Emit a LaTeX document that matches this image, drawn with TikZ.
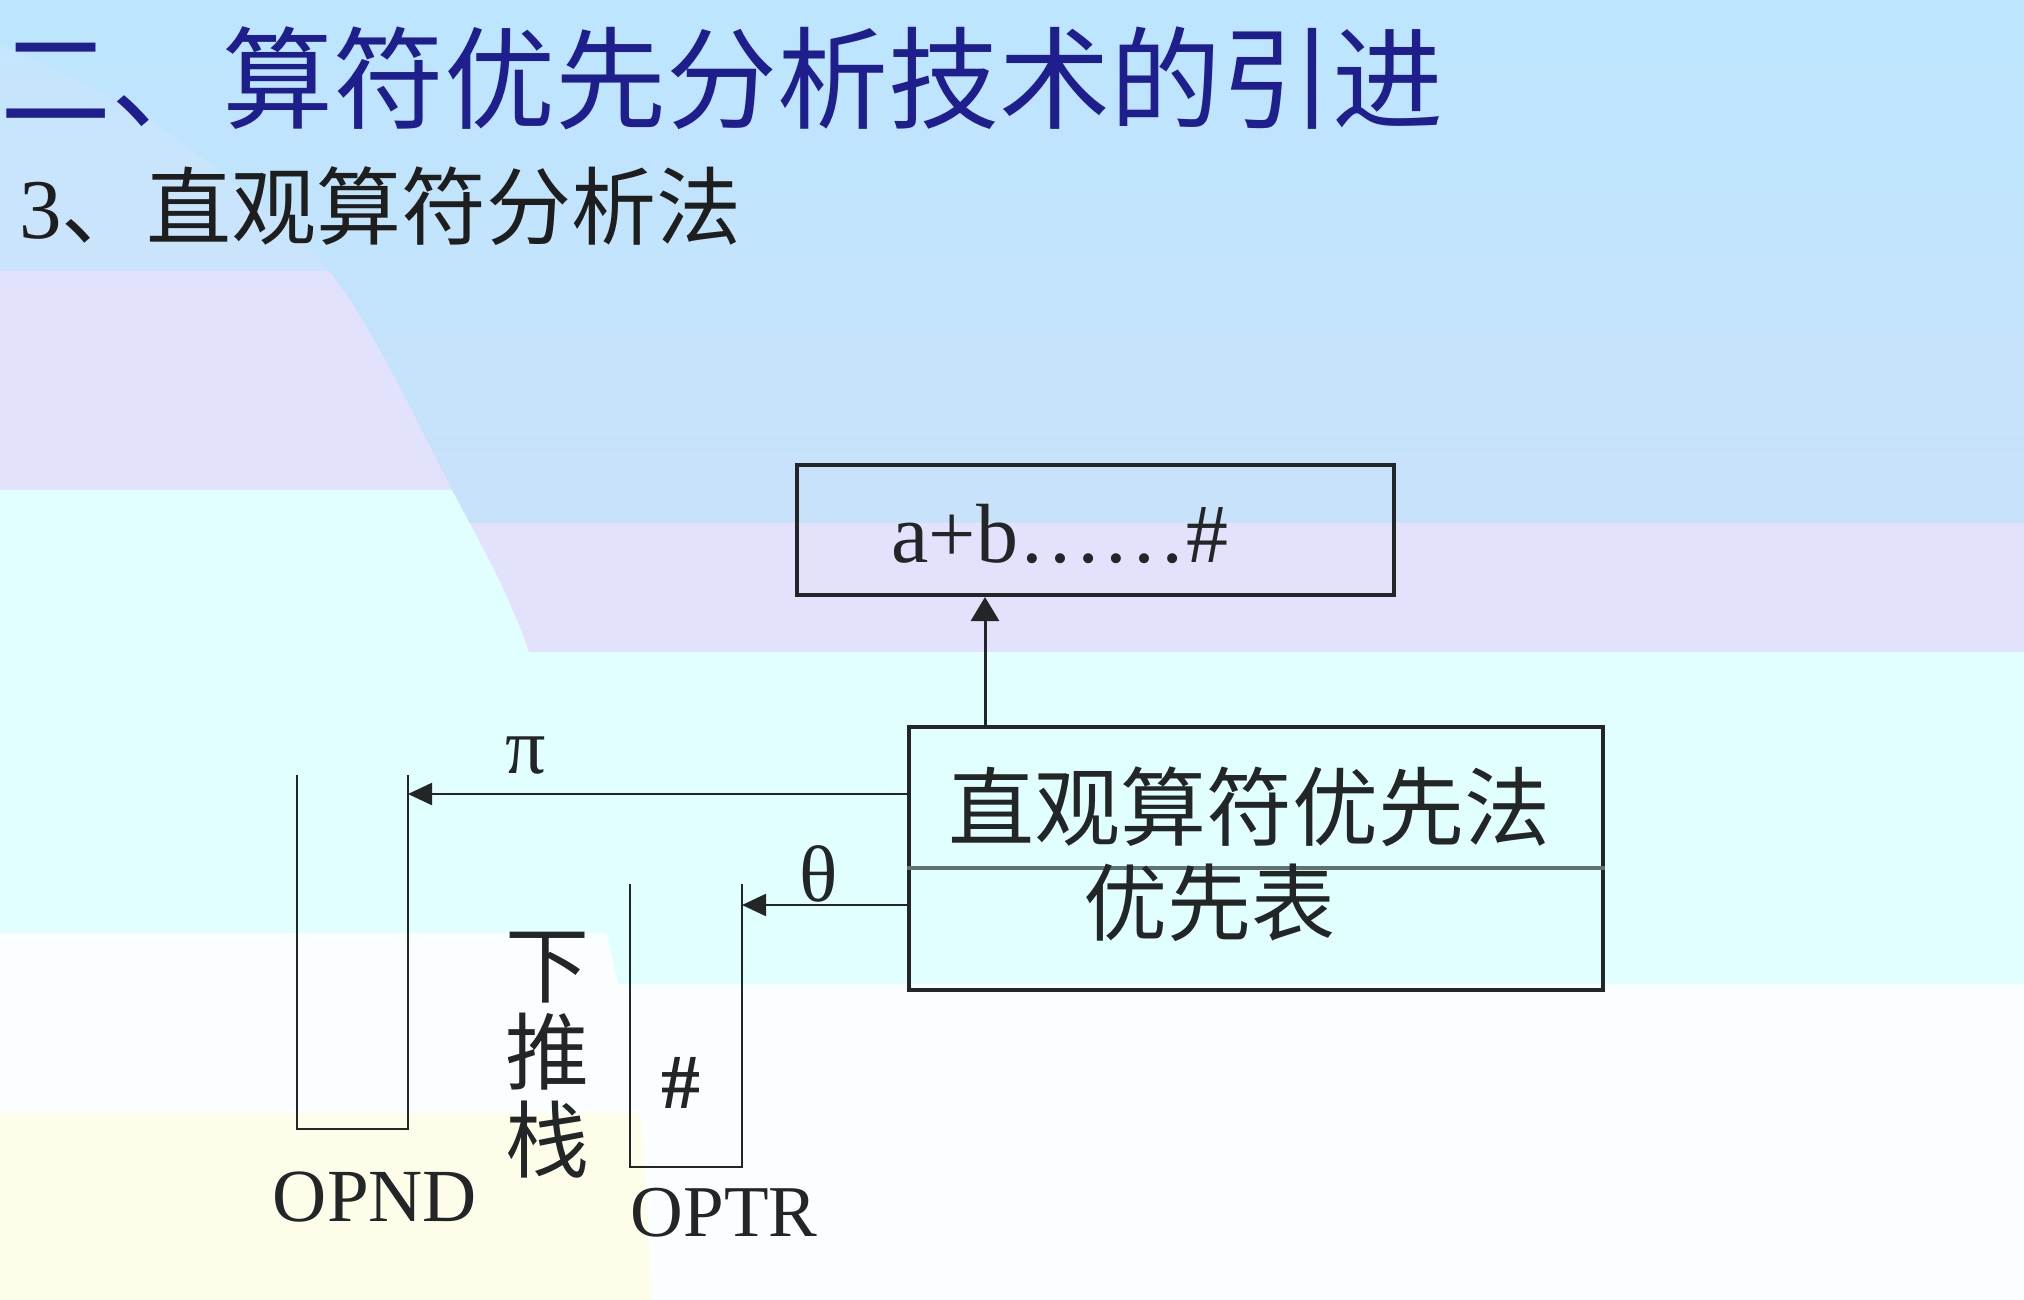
\documentclass[tikz,border=0pt]{standalone}
\usepackage{fontspec}
\setmainfont{Liberation Serif}
\newfontfamily\cjk{Noto Sans CJK SC}
\usetikzlibrary{arrows.meta}
\definecolor{bgbluetop}{HTML}{BDE5FE}
\definecolor{bgbluelo}{HTML}{C8E2FA}
\definecolor{bglbluetop}{HTML}{C3E6FE}
\definecolor{bglbluelo}{HTML}{CBE4FB}
\definecolor{lav}{HTML}{E3E2FC}
\definecolor{cyanbg}{HTML}{E2FFFF}
\definecolor{whitebg}{HTML}{FBFEFF}
\definecolor{yellowbg}{HTML}{FDFDEA}
\definecolor{titleblue}{RGB}{30,30,140}
\definecolor{inkc}{HTML}{222626}
\definecolor{subc}{HTML}{1E1E1E}
\definecolor{divc}{HTML}{5E7270}
\tikzset{
  boxnode/.style={draw=inkc, line width=2pt, inner sep=0pt, anchor=north west},
  stackline/.style={draw=inkc, line width=1.1pt},
  larr/.style={draw=inkc, line width=1.1pt, -{Triangle[length=12pt,width=11pt]}},
  uarr/.style={draw=inkc, line width=1.5pt, -{Triangle[length=12pt,width=14pt]}},
  txt/.style={inner sep=0pt, text=inkc},
}
\begin{document}
\begin{tikzpicture}[x=0.5pt,y=-0.5pt]
\useasboundingbox (0,0) rectangle (2024,1300);
% background, right side bands
\shade[top color=bgbluetop, bottom color=bgbluelo] (0,0) rectangle (2024,523);
\fill[lav] (0,523) rectangle (2024,652);
\fill[cyanbg] (0,652) rectangle (2024,984);
\fill[whitebg] (0,984) rectangle (2024,1300);
% background, left side bands
\begin{scope}
\clip (-10,-10) -- (-10,40) -- plot[smooth] coordinates {(-10,40) (150,120) (329,271) (452,490) (529,652) (607,935) (640,1113) (652,1310)} -- (-10,1310) -- cycle;
\shade[top color=bglbluetop, bottom color=bglbluelo] (-10,-10) rectangle (2024,271);
\fill[lav] (-10,271) rectangle (2024,490);
\fill[cyanbg] (-10,490) rectangle (2024,933);
\fill[whitebg] (-10,933) rectangle (2024,1113);
\fill[yellowbg] (-10,1113) rectangle (2024,1310);
\end{scope}

% headings
\node[anchor=west, inner sep=0pt, text=titleblue, font=\cjk\fontsize{55.5}{55.5}\selectfont] (title) at (0,78) {二、算符优先分析技术的引进};
\node[anchor=west, inner sep=0pt, text=subc, font=\fontsize{42.5}{42.5}\selectfont] (sub) at (19,206) {3{\cjk 、直观算符分析法}};

% boxes
\node[boxnode, minimum width=298.5pt, minimum height=65pt] (input) at (795,463) {};
\node[txt, anchor=base, font=\fontsize{42}{42}\selectfont] (expr) at (1060,562) {a+b……\#};
\node[boxnode, minimum width=347pt, minimum height=131.5pt] (main) at (907,725) {};
\coordinate (divy) at (0,868);
\draw[draw=divc, line width=2pt] (main.west |- divy) -- (main.east |- divy);
\node[txt, font=\cjk\fontsize{43}{43}\selectfont] (m1) at (1249,807) {直观算符优先法};
\node[txt, font=\cjk\fontsize{42}{42}\selectfont] (m2) at (1209,903) {优先表};

% stacks
\coordinate (opndTL) at (297,775);
\coordinate (opndBR) at (408,1129);
\coordinate (opndTR) at (408,775);
\draw[stackline] (opndTL) |- (opndBR) -- (opndTR);
\coordinate (optrTL) at (630,884);
\coordinate (optrBR) at (742,1167);
\coordinate (optrTR) at (742,884);
\draw[stackline] (optrTL) |- (optrBR) -- (optrTR);

% connectors
\coordinate (ux) at (985,0);
\draw[uarr] (ux |- main.north) -- (ux |- input.south);
\coordinate (piy) at (0,794);
\coordinate (thy) at (0,905);
\draw[larr] (main.west |- piy) -- (opndTR |- piy);
\draw[larr] (main.west |- thy) -- (optrTR |- thy);

% labels
\node[txt, font=\fontsize{40}{40}\selectfont] (pi) at (526,756) {π};
\node[txt, font=\fontsize{40}{40}\selectfont] (theta) at (819,874) {θ};
\node[txt, font=\fontsize{37.5}{37.5}\selectfont] (opnd) at (375,1197) {OPND};
\node[txt, font=\fontsize{36.5}{36.5}\selectfont] (optr) at (724,1213) {OPTR};
\node[txt, font=\bfseries\fontsize{39}{39}\selectfont] (hash) at (681,1083) {\#};
\node[txt, align=center, font=\cjk\fontsize{42}{43.75}\selectfont] (push) at (547,1055) {下\\推\\栈};
\end{tikzpicture}
\end{document}
